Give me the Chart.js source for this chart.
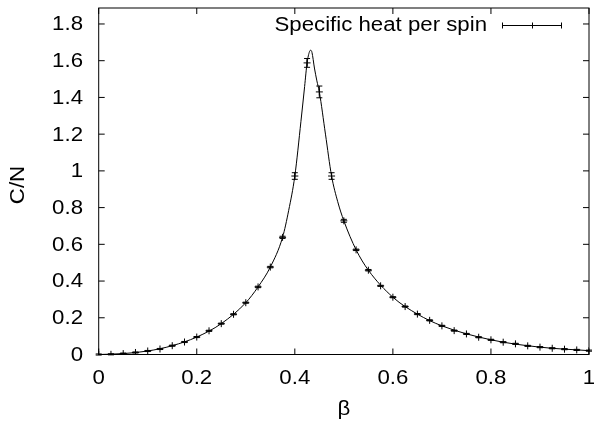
<!DOCTYPE html>
<html>
<head>
<meta charset="utf-8">
<script src="https://cdn.jsdelivr.net/npm/chart.js@4"></script>
<style>
  html, body { margin: 0; padding: 0; background: #fff; }
  #wrap { width: 594px; height: 423px; }
</style>
</head>
<body>
<div id="wrap"><canvas id="c" width="594" height="423"></canvas></div>
<script>
// measured points (beta, C/N, error)
const beta = [0, 0.025, 0.05, 0.075, 0.1, 0.125, 0.15, 0.175, 0.2, 0.225, 0.25, 0.275, 0.3, 0.325, 0.35, 0.375, 0.4,
  0.425, 0.45, 0.475, 0.5, 0.525, 0.55, 0.575, 0.6, 0.625, 0.65, 0.675, 0.7, 0.725, 0.75, 0.775, 0.8, 0.825, 0.85,
  0.875, 0.9, 0.925, 0.95, 0.975, 1.0];
const heat = [0, 0.001, 0.005, 0.011, 0.019, 0.030, 0.048, 0.068, 0.095, 0.129, 0.168, 0.219, 0.282, 0.368, 0.476, 0.638, 0.972,
  1.588, 1.43, 0.972, 0.728, 0.570, 0.459, 0.374, 0.312, 0.261, 0.220, 0.186, 0.156, 0.130, 0.112, 0.094, 0.080, 0.067, 0.058,
  0.047, 0.040, 0.034, 0.029, 0.025, 0.021];
const heatErr = [0.003, 0.003, 0.003, 0.003, 0.003, 0.003, 0.003, 0.003, 0.003, 0.003, 0.003, 0.003, 0.003, 0.004, 0.004, 0.006, 0.018,
  0.024, 0.032, 0.018, 0.008, 0.004, 0.004, 0.003, 0.003, 0.003, 0.003, 0.003, 0.003, 0.003, 0.003, 0.003, 0.003, 0.003, 0.003,
  0.003, 0.003, 0.003, 0.003, 0.003, 0.003];

// smooth curve
const curveBeta = [0, 0.05, 0.1, 0.15, 0.2, 0.25, 0.3, 0.325, 0.35, 0.375, 0.3875, 0.4, 0.4125, 0.42, 0.425, 0.43, 0.4325,
  0.435, 0.44, 0.445, 0.45, 0.4625, 0.475, 0.4875, 0.5, 0.525, 0.55, 0.6, 0.65, 0.7, 0.8, 0.9, 1.0];
const curveHeat = [0, 0.005, 0.019, 0.048, 0.095, 0.168, 0.282, 0.368, 0.476, 0.638, 0.785, 0.972, 1.27, 1.46, 1.588, 1.65, 1.657,
  1.645, 1.56, 1.49, 1.43, 1.20, 0.972, 0.832, 0.728, 0.570, 0.459, 0.312, 0.220, 0.156, 0.080, 0.040, 0.021];

const xTicks = [0, 0.2, 0.4, 0.6, 0.8, 1];
const yTicks = [0, 0.2, 0.4, 0.6, 0.8, 1, 1.2, 1.4, 1.6, 1.8];
const xTitle = 'β';
const yTitle = 'C/N';
const legendText = 'Specific heat per spin';

const FONT = "19.5px 'Liberation Sans', Arial, sans-serif";
const STRETCH = 1.14; // gnuplot text is a bit wider than Arial
const fmt = v => String(Math.round(v * 10) / 10);

// text with horizontal stretch, align: left/right/center
function stretchText(ctx, txt, x, y, align) {
  ctx.save();
  ctx.font = FONT;
  ctx.textBaseline = 'middle';
  ctx.textAlign = 'left';
  const w = ctx.measureText(txt).width * STRETCH;
  let x0 = x;
  if (align === 'right') x0 = x - w;
  if (align === 'center') x0 = x - w / 2;
  ctx.translate(x0, y);
  ctx.scale(STRETCH, 1);
  ctx.fillText(txt, 0, 0);
  ctx.restore();
}

// gnuplot-ish frame, inward ticks on every side, labels and key
const framePlugin = {
  id: 'frame',
  afterDraw(chart) {
    const { ctx, chartArea: a, scales: { x, y } } = chart;
    ctx.save();
    ctx.strokeStyle = '#000';
    ctx.fillStyle = '#000';
    ctx.lineWidth = 1;
    ctx.strokeRect(a.left, a.top, a.right - a.left, a.bottom - a.top);
    ctx.beginPath();
    const t = 6;
    xTicks.forEach(v => {
      const px = x.getPixelForValue(v);
      ctx.moveTo(px, a.bottom); ctx.lineTo(px, a.bottom - t);
      ctx.moveTo(px, a.top); ctx.lineTo(px, a.top + t);
    });
    yTicks.forEach(v => {
      const py = y.getPixelForValue(v);
      ctx.moveTo(a.left, py); ctx.lineTo(a.left + t, py);
      ctx.moveTo(a.right, py); ctx.lineTo(a.right - t, py);
    });
    ctx.stroke();

    xTicks.forEach(v => stretchText(ctx, fmt(v), x.getPixelForValue(v), 379, 'center'));
    yTicks.forEach(v => stretchText(ctx, fmt(v), 83, y.getPixelForValue(v) + 1, 'right'));
    stretchText(ctx, xTitle, (a.left + a.right) / 2, 410, 'center');
    ctx.save();
    ctx.translate(19, 185);
    ctx.rotate(-Math.PI / 2);
    stretchText(ctx, yTitle, 0, 0, 'center');
    ctx.restore();

    // key
    const ly = 25;
    stretchText(ctx, legendText, 487, ly + 1, 'right');
    ctx.beginPath();
    ctx.moveTo(502, ly + 0.5); ctx.lineTo(562, ly + 0.5);
    ctx.moveTo(502.5, ly - 2.5); ctx.lineTo(502.5, ly + 3.5);
    ctx.moveTo(561.5, ly - 2.5); ctx.lineTo(561.5, ly + 3.5);
    ctx.moveTo(532.5, ly - 2.5); ctx.lineTo(532.5, ly + 3.5);
    ctx.stroke();
    ctx.restore();
  }
};

// vertical error bars with small caps
const errorBarPlugin = {
  id: 'errbars',
  afterDatasetsDraw(chart) {
    const { ctx, scales: { x, y } } = chart;
    ctx.save();
    ctx.strokeStyle = '#000';
    ctx.lineWidth = 1;
    ctx.beginPath();
    beta.forEach((b, i) => {
      const px = x.getPixelForValue(b);
      const lo = y.getPixelForValue(heat[i] - heatErr[i]);
      const hi = y.getPixelForValue(heat[i] + heatErr[i]);
      ctx.moveTo(px, lo); ctx.lineTo(px, hi);
      ctx.moveTo(px - 3, lo); ctx.lineTo(px + 3, lo);
      ctx.moveTo(px - 3, hi); ctx.lineTo(px + 3, hi);
    });
    ctx.stroke();
    ctx.restore();
  }
};

const noPad = s => { s.paddingTop = 0; s.paddingBottom = 0; s.paddingLeft = 0; s.paddingRight = 0; };

new Chart(document.getElementById('c'), {
  type: 'scatter',
  data: {
    datasets: [
      {
        label: 'curve',
        data: curveBeta.map((b, i) => ({ x: b, y: curveHeat[i] })),
        showLine: true,
        borderColor: '#000',
        borderWidth: 1,
        pointRadius: 0,
        cubicInterpolationMode: 'monotone'
      },
      {
        label: legendText,
        data: beta.map((b, i) => ({ x: b, y: heat[i] })),
        showLine: false,
        pointStyle: 'cross',
        pointRadius: 3.5,
        borderColor: '#000',
        borderWidth: 1
      }
    ]
  },
  options: {
    responsive: false,
    animation: false,
    layout: { padding: { top: 8, right: 5, left: 0, bottom: 0 } },
    plugins: { legend: { display: false }, tooltip: { enabled: false } },
    scales: {
      x: {
        type: 'linear', min: 0, max: 1,
        afterBuildTicks: s => { s.ticks = xTicks.map(v => ({ value: v })); },
        afterFit: s => { s.height = 68.5; noPad(s); },
        grid: { display: false, drawTicks: false },
        border: { display: false },
        ticks: { display: false }
      },
      y: {
        type: 'linear', min: 0, max: 1.887,
        afterBuildTicks: s => { s.ticks = yTicks.map(v => ({ value: v })); },
        afterFit: s => { s.width = 98.7; noPad(s); },
        grid: { display: false, drawTicks: false },
        border: { display: false },
        ticks: { display: false }
      }
    }
  },
  plugins: [framePlugin, errorBarPlugin]
});
</script>
</body>
</html>
